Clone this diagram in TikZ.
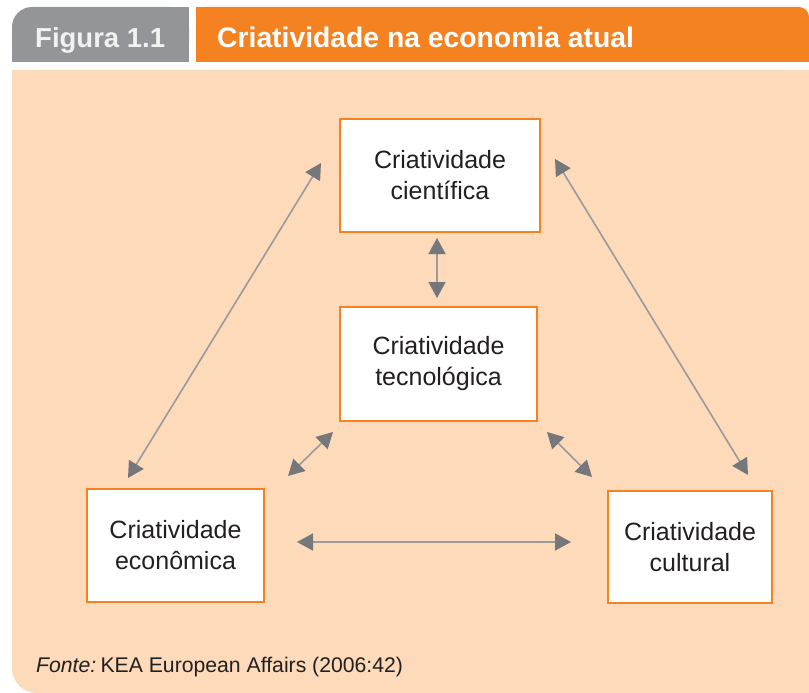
\documentclass[tikz,border=0pt]{standalone}
\usepackage{fontspec}
\setmainfont{Liberation Sans}
\usetikzlibrary{arrows.meta}
\definecolor{figgray}{HTML}{939598}
\definecolor{figorange}{HTML}{F58220}
\definecolor{peach}{HTML}{FDDABA}
\definecolor{linegray}{HTML}{9A9A9A}
\definecolor{headgray}{HTML}{76777B}
\definecolor{txt}{HTML}{231F20}
\tikzset{
  cbox/.style={draw=figorange, line width=2.4pt, fill=white, inner sep=0pt,
    align=center, text=txt, font=\fontsize{25}{31}\selectfont},
  biarrow/.style={draw=linegray, line width=1.6pt,
    {Triangle[length=16pt,width=17pt,fill=headgray,color=headgray]}-{Triangle[length=16pt,width=17pt,fill=headgray,color=headgray]}},
  headtxt/.style={anchor=base west, inner sep=0pt}
}
\begin{document}
\begin{tikzpicture}[x=1pt,y=-1pt]
\useasboundingbox (0,0) rectangle (809,693);
% header tabs
\fill[figgray, rounded corners=20pt] (12,7) rectangle (189,62);
\fill[figgray] (40,7) rectangle (189,62);
\fill[figgray] (12,35) rectangle (189,62);
\fill[figorange, rounded corners=10pt] (196,7) rectangle (809,62);
\fill[figorange] (196,7) rectangle (780,62);
\fill[figorange] (196,30) rectangle (809,62);
% background
\fill[peach, rounded corners=25pt] (12,70) rectangle (809,693);
\fill[peach] (12,70) rectangle (809,650);
\fill[peach] (50,70) rectangle (809,693);
% header text
\node[headtxt, text=white!95!black, font=\fontsize{27.5}{32}\selectfont\bfseries] (fig) at (35,48) {Figura 1.1};
\node[headtxt, text=white, font=\fontsize{28.3}{32}\selectfont\bfseries] (title) at (217,48) {Criatividade na economia atual};
% boxes
\node[cbox, minimum width=200pt, minimum height=113pt] (cient) at (440,175.5) {Criatividade\\científica};
\node[cbox, minimum width=197pt, minimum height=114pt] (tec) at (438.5,364) {Criatividade\\tecnológica};
\node[cbox, minimum width=177pt, minimum height=113pt] (econ) at (175.5,545.5) {Criatividade\\econômica};
\node[cbox, minimum width=164pt, minimum height=112pt] (cult) at (690,547) {Criatividade\\cultural};
% arrow end points
\coordinate (ec1) at (128,478);
\coordinate (ec2) at (321,163);
\coordinate (cc1) at (555,159);
\coordinate (cc2) at (748,475);
\coordinate (ct1) at (437,238);
\coordinate (ct2) at (437,298);
\coordinate (te1) at (333,432);
\coordinate (te2) at (288,476);
\coordinate (tc1) at (547,432);
\coordinate (tc2) at (592,477);
\coordinate (eu1) at (297,542);
\coordinate (eu2) at (571,542);
\draw[biarrow] (ec1) -- (ec2);
\draw[biarrow] (cc1) -- (cc2);
\draw[biarrow] (ct1) -- (ct2);
\draw[biarrow] (te1) -- (te2);
\draw[biarrow] (tc1) -- (tc2);
\draw[biarrow] (eu1) -- (eu2);
% footer
\node[anchor=base west, inner sep=0pt, text=txt, font=\fontsize{21.2}{26}\selectfont] (fonte) at (36,672) {\textit{Fonte:}\hspace{0.2em}KEA European Affairs (2006:42)};
\end{tikzpicture}
\end{document}
